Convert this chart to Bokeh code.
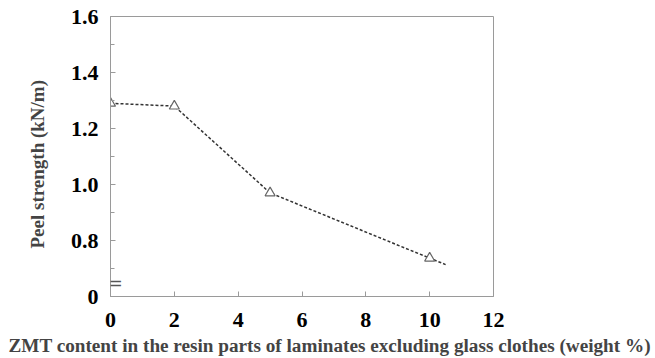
from bokeh.plotting import figure
from bokeh.models import FixedTicker, Label, Range1d, Title
from bokeh.embed import file_html
from bokeh.resources import INLINE

# data
zmt_content = [0, 2, 5, 10]
peel_strength = [1.29, 1.28, 0.97, 0.737]
trend_x = [0, 2, 5, 10, 10.5]
trend_y = [1.29, 1.28, 0.97, 0.737, 0.714]
x_ticks = [0, 2, 4, 6, 8, 10, 12]
y_ticks = [0.6, 0.8, 1.0, 1.2, 1.4, 1.6]
y_minor = [0.7, 0.9, 1.1, 1.3, 1.5]
y_tick_labels = {0.6: "0", 0.8: "0.8", 1.0: "1.0", 1.2: "1.2", 1.4: "1.4", 1.6: "1.6"}
x_label = "ZMT content in the resin parts of laminates excluding glass clothes (weight %)"
y_label = "Peel strength (kN/m)"

FONT = "Liberation Serif"
GRAY = "#9a9a9a"

p = figure(width=655, height=358, output_backend="svg", toolbar_location=None,
           x_range=Range1d(0, 12), y_range=Range1d(0.6, 1.6),
           min_border_left=110, min_border_right=162, min_border_top=16, min_border_bottom=62)
p.background_fill_color = "white"
p.border_fill_color = "white"
p.outline_line_color = GRAY
p.outline_line_width = 1
p.grid.visible = False

p.xaxis.ticker = FixedTicker(ticks=x_ticks, minor_ticks=[])
p.yaxis.ticker = FixedTicker(ticks=y_ticks, minor_ticks=y_minor)
p.yaxis.major_label_overrides = y_tick_labels
for ax in (p.xaxis, p.yaxis):
    ax.axis_line_color = GRAY
    ax.major_tick_line_color = GRAY
    ax.minor_tick_line_color = GRAY
    ax.major_tick_in = 5
    ax.major_tick_out = 0
    ax.minor_tick_in = 4
    ax.minor_tick_out = 0
    ax.major_label_text_font = FONT
    ax.major_label_text_font_style = "bold"
    ax.major_label_text_font_size = "22px"
    ax.major_label_text_color = "black"
p.xaxis.major_label_standoff = 16
p.yaxis.major_label_standoff = 12

p.line(trend_x, trend_y, line_color="#333333", line_width=1.5, line_dash="3 2")
p.scatter(zmt_content, peel_strength, marker="triangle", size=10,
          fill_color="white", line_color="#666666", line_width=1.2)

# axis break mark (inside the frame part)
p.add_layout(Label(x=-2, y=14, x_units="screen", y_units="screen", text="=",
                   text_align="left", text_baseline="alphabetic",
                   text_font="DejaVu Sans", text_font_size="17px", text_color="#555555"))

p.add_layout(Title(text=x_label, align="left", offset=-102, text_font=FONT,
                   text_font_style="bold", text_font_size="19.2px", standoff=6), "below")
p.add_layout(Title(text=y_label, align="left", offset=48, vertical_align="top", text_font=FONT,
                   text_font_style="bold", text_font_size="19px", standoff=35), "left")

open("out.html", "w").write(file_html(p, INLINE))
